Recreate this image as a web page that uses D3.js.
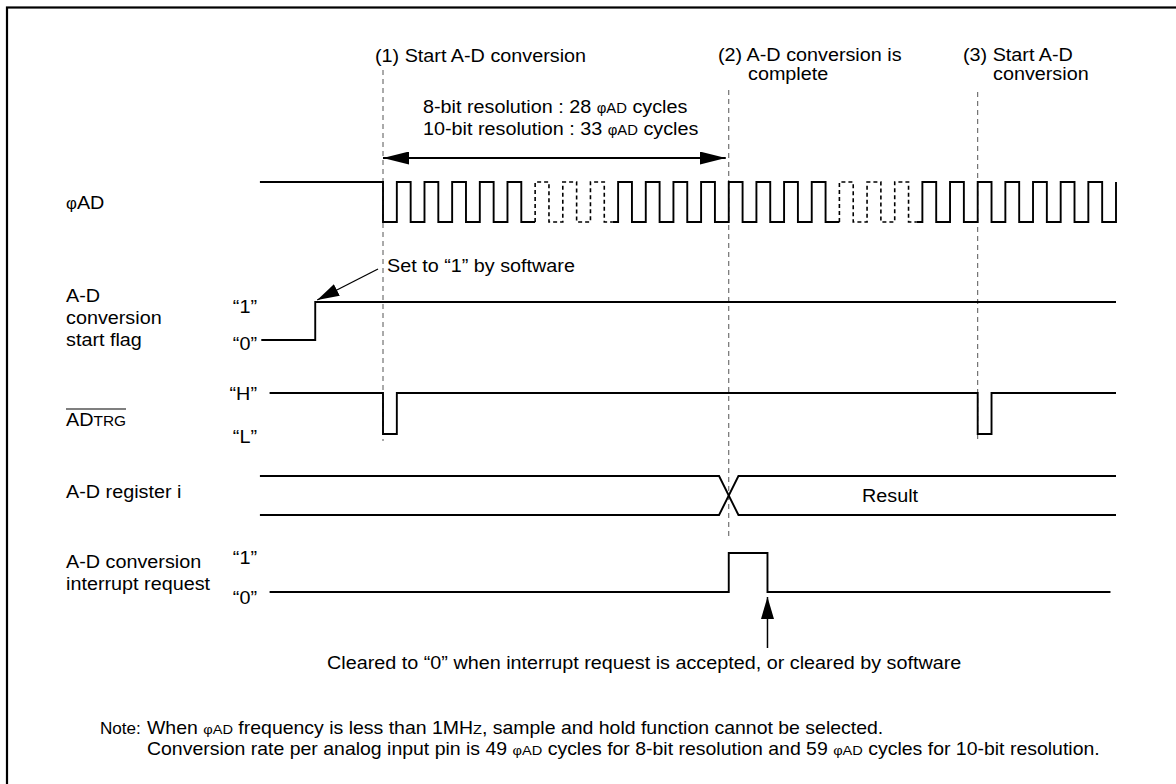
<!DOCTYPE html>
<html><head><meta charset="utf-8">
<script src="https://cdn.jsdelivr.net/npm/d3@7"></script>
<style>html,body{margin:0;padding:0;background:#fff;}svg{display:block;}</style>
</head><body>
<svg id="c" width="1176" height="784"></svg>
<script>
// ---------- data ----------
// time unit: one half-cycle of φAD; t = 0 is the "(1) Start A-D conversion" edge
const events = [
  {t: 0,  lines: ["(1) Start A-D conversion"]},
  {t: 25, lines: ["(2) A-D conversion is", "complete"]},
  {t: 43, lines: ["(3) Start A-D", "conversion"]}
];
const clockEdges = [0,1,2,3,4,5,6,7,8,9,10,11,12,13,14,15,16,17,18,19,20,21,22,23,24,25,26,
                    27,28,29,30,31,32,33,34,35,36,37,38,39,40,41,42,43,44,45,46,47,48,49,50,51,52,53];
const clockSegments = [
  {from: -8.9, to: 11,   style: "solid"},
  {from: 11,   to: 16.6, style: "dashed"},
  {from: 16.6, to: 33,   style: "solid"},
  {from: 33,   to: 38.6, style: "dashed"},
  {from: 38.6, to: 53,   style: "solid"}
];
const flagSteps = [{t: -8.8, v: 0}, {t: -4.9, v: 1}, {t: 53, v: 1}];
const trgSteps  = [{t: -8.2, v: 1}, {t: 0, v: 0}, {t: 1, v: 1}, {t: 43, v: 0}, {t: 44, v: 1}, {t: 53, v: 1}];
const irqSteps  = [{t: -8.2, v: 0}, {t: 25, v: 1}, {t: 27.8, v: 0}, {t: 52.6, v: 0}];
const register  = {start: -8.9, cross: 25, half: 0.7, end: 53, label: "Result"};
const signalLabels = [
  {id: "clk",  lines: [[["φ", 0.85], ["AD", 1]]]},
  {id: "flag", lines: [[["A-D", 1]], [["conversion", 1]], [["start flag", 1]]]},
  {id: "trg",  lines: [[["AD", 1], ["TRG", 0.78]]], overline: true},
  {id: "reg",  lines: [[["A-D register i", 1]]]},
  {id: "irq",  lines: [[["A-D conversion", 1]], [["interrupt request", 1]]]}
];
const levelLabels = {flag: ["“1”", "“0”"], trg: ["“H”", "“L”"], irq: ["“1”", "“0”"]};
const cycleNotes = [
  [["8-bit resolution : 28 ", 1], ["φAD", 0.75], [" cycles", 1]],
  [["10-bit resolution : 33 ", 1], ["φAD", 0.75], [" cycles", 1]]
];
const setNote = "Set to “1” by software";
const clearNote = "Cleared to “0” when interrupt request is accepted, or cleared by software";
const noteHead = "Note:";
const notes = [
  [["When ", 1], ["φAD", 0.75], [" frequency is less than 1M", 1], ["H", 1], ["Z", 0.75], [", sample and hold function cannot be selected.", 1]],
  [["Conversion rate per analog input pin is 49 ", 1], ["φAD", 0.75], [" cycles for 8-bit resolution and 59 ", 1], ["φAD", 0.75], [" cycles for 10-bit resolution.", 1]]
];

// ---------- layout ----------
const FONT = "'Liberation Sans', Arial, Helvetica, sans-serif";
const FS = 18.5, SX = 1.07, NFS = 18.2;
const rows = {
  clk:  {hi: 182, lo: 222},
  flag: {hi: 302, lo: 340},
  trg:  {hi: 393, lo: 434},
  reg:  {hi: 476, lo: 515},
  irq:  {hi: 553, lo: 592}
};
const labelBase = {clk: 209, flag: 302, trg: 426, reg: 498, irq: 568};
const levelBase = {flag: [313, 350], trg: [400, 443], irq: [564, 604]};

const svg = d3.select("#c");
const x = d3.scaleLinear().domain([0, 53]).range([383, 1116]);
const yOf = (row) => d3.scaleLinear().domain([0, 1]).range([rows[row].lo, rows[row].hi]);

// frame
svg.append("rect").attr("x", 7).attr("y", 7.5).attr("width", 1250).attr("height", 850)
  .attr("fill", "none").attr("stroke", "#000").attr("stroke-width", 2.2);

// arrow markers
const defs = svg.append("defs");
function marker(id, len, w) {
  defs.append("marker").attr("id", id).attr("viewBox", `0 0 ${len} ${w}`)
    .attr("refX", len).attr("refY", w / 2).attr("markerWidth", len).attr("markerHeight", w)
    .attr("markerUnits", "userSpaceOnUse").attr("orient", "auto-start-reverse")
    .append("path").attr("d", `M0,0L${len},${w / 2}L0,${w}Z`).attr("fill", "#000");
}
marker("ah", 26, 13);
marker("ah2", 22, 13);

// text helper
function text(g, px, py, parts, size, anchor) {
  const t = g.append("text").attr("transform", `translate(${px},${py}) scale(${SX},1)`)
    .attr("font-family", FONT).attr("font-size", size).attr("fill", "#000");
  if (anchor) t.attr("text-anchor", anchor);
  parts.forEach(([s, k]) => t.append("tspan").attr("font-size", size * k).text(s));
  return t;
}

// event dashed guide lines
const guideSpan = [[70, 441], [90, 540], [92, 441]];
const gGuide = svg.append("g");
events.forEach((e, i) => {
  gGuide.append("line").attr("x1", x(e.t)).attr("x2", x(e.t))
    .attr("y1", guideSpan[i][0]).attr("y2", guideSpan[i][1])
    .attr("stroke", "#555").attr("stroke-width", 1).attr("stroke-dasharray", "5,4");
});

// event titles
const titlePos = [[375, [62]], [718, [61, 80]], [963, [61, 80]]];
const indent = [0, 30, 30];
events.forEach((e, i) => {
  e.lines.forEach((ln, j) => {
    text(svg, titlePos[i][0] + (j ? indent[i] : 0), titlePos[i][1][j], [[ln, 1]], FS);
  });
});

// cycle notes + double arrow
cycleNotes.forEach((ln, j) => text(svg, 423, [113, 135][j], ln, FS));
svg.append("line").attr("x1", x(events[0].t)).attr("x2", x(events[1].t) - 3)
  .attr("y1", 158).attr("y2", 158).attr("stroke", "#000").attr("stroke-width", 2)
  .attr("marker-start", "url(#ah)").attr("marker-end", "url(#ah)");

// clock
const EPS = 1e-6;
const clkLevel = (t) => t < 0 ? 1 : (Math.floor(t + 1e-9) % 2 === 0 ? 0 : 1);
const yClk = yOf("clk");
const stepLine = (yy) => d3.line().x(d => x(d.t)).y(d => yy(d.v)).curve(d3.curveStepAfter);
const lastEdge = clockEdges[clockEdges.length - 1];
clockSegments.forEach(s => {
  const pts = [];
  if (clockEdges.includes(s.from)) pts.push({t: s.from, v: clkLevel(s.from - EPS)});
  else pts.push({t: s.from, v: clkLevel(s.from)});
  clockEdges.filter(e => e >= s.from && e < s.to).forEach(e => pts.push({t: e, v: clkLevel(e)}));
  pts.push({t: s.to, v: clkLevel(s.to - EPS)});
  if (s.to === lastEdge) pts.push({t: s.to, v: clkLevel(s.to)});
  svg.append("path").attr("d", stepLine(yClk)(pts)).attr("fill", "none")
    .attr("stroke", "#000").attr("stroke-width", s.style === "dashed" ? 1.6 : 1.9)
    .attr("stroke-dasharray", s.style === "dashed" ? "4,3" : null);
});

// flag / trg / irq
[["flag", flagSteps], ["trg", trgSteps], ["irq", irqSteps]].forEach(([id, st]) => {
  svg.append("path").attr("d", stepLine(yOf(id))(st)).attr("fill", "none")
    .attr("stroke", "#000").attr("stroke-width", 1.9);
});

// register (bus with crossover)
const yR = yOf("reg");
const xa = x(register.cross - register.half), xb = x(register.cross + register.half);
[[1, 0], [0, 1]].forEach(([a, b]) => {
  svg.append("path").attr("d", d3.line()([[x(register.start), yR(a)], [xa, yR(a)], [xb, yR(b)], [x(register.end), yR(b)]]))
    .attr("fill", "none").attr("stroke", "#000").attr("stroke-width", 1.9);
});
text(svg, 862, 502, [[register.label, 1]], FS);

// signal labels
signalLabels.forEach(s => {
  s.lines.forEach((ln, j) => {
    const t = text(svg, 66, labelBase[s.id] + j * 22, ln, FS);
    if (s.overline) {
      const w = t.node().getComputedTextLength() * SX;
      svg.append("line").attr("x1", 66).attr("x2", 66 + w).attr("y1", labelBase[s.id] - 17)
        .attr("y2", labelBase[s.id] - 17).attr("stroke", "#000").attr("stroke-width", 1.2);
    }
  });
});

// level labels
Object.keys(levelLabels).forEach(id => {
  levelLabels[id].forEach((l, j) => text(svg, 257, levelBase[id][j], [[l, 1]], FS, "end"));
});

// set note + arrow
text(svg, 387, 272, [[setNote, 1]], FS);
svg.append("line").attr("x1", 378).attr("y1", 269).attr("x2", x(flagSteps[1].t) + 2).attr("y2", 300)
  .attr("stroke", "#000").attr("stroke-width", 1.3).attr("marker-end", "url(#ah2)");

// clear note + arrow
const xClr = x(irqSteps[2].t);
svg.append("line").attr("x1", xClr).attr("x2", xClr).attr("y1", 648).attr("y2", 597)
  .attr("stroke", "#000").attr("stroke-width", 1.5).attr("marker-end", "url(#ah2)");
text(svg, 327, 669, [[clearNote, 1]], FS);

// footnotes
text(svg, 100, 734, [[noteHead, 1]], 16);
notes.forEach((ln, j) => text(svg, 147, [734, 755][j], ln, NFS));
</script>
</body></html>
